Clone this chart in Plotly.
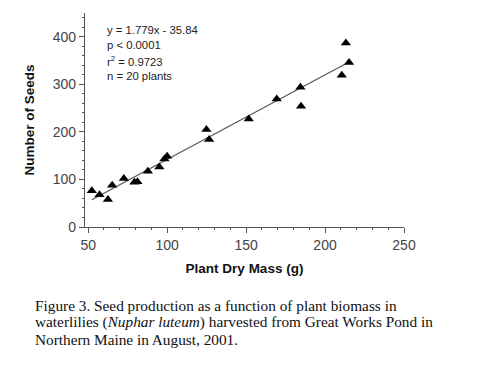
import plotly.graph_objects as go

mass = [52.3, 57.2, 62.5, 65.2, 72.6, 79.3, 81.2, 87.8, 95.1, 98.3, 100.0,
        124.9, 126.6, 151.7, 169.4, 184.4, 184.8, 210.6, 213.2, 215.2]
seeds = [76, 68, 58, 88, 102, 94, 95, 117, 126, 143, 149,
         205, 184, 227, 269, 294, 254, 319, 387, 346]
slope = 1.779
intercept = -35.84
fit_x = [min(mass), max(mass)]
fit_y = [slope * v + intercept for v in fit_x]

stats_lines = ["y = 1.779x - 35.84", "p < 0.0001", "r<sup>2</sup> = 0.9723", "n = 20 plants"]
x_title = "Plant Dry Mass (g)"
y_title = "Number of Seeds"
caption_lines = ["Figure 3. Seed production as a function of plant biomass in",
                 "waterlilies (<i>Nuphar luteum</i>) harvested from Great Works Pond in",
                 "Northern Maine in August, 2001."]

# page body has an 8px margin; figure is sized/offset to compensate
OFF = 8
W, H = 488 - OFF, 368 - OFF
L, R, T, B = 85 - OFF, 84, 13 - OFF, 141
PW, PH = W - L - R, H - T - B

fig = go.Figure()
fig.add_trace(go.Scatter(x=fit_x, y=fit_y, mode="lines",
                         line=dict(color="#555555", width=1.2), showlegend=False))
fig.add_trace(go.Scatter(x=mass, y=seeds, mode="markers",
                         marker=dict(symbol="triangle-up", size=9, color="black"),
                         showlegend=False))

axis_font = dict(family="Liberation Sans, Arial, sans-serif", size=14, color="#444444")
title_font = dict(family="Liberation Sans, Arial, sans-serif", size=13.5, color="#111111")
fig.update_xaxes(range=[48, 250], tickvals=[50, 100, 150, 200, 250],
                 showline=True, linecolor="#555555", linewidth=1.3,
                 ticks="outside", ticklen=5, tickcolor="#555555",
                 minor=dict(dtick=10, tick0=50, ticks="outside", ticklen=2, tickcolor="#555555"),
                 showgrid=False, zeroline=False, tickfont=axis_font,
                 title=dict(text="<b>" + x_title + "</b>", font=title_font, standoff=11))
fig.update_yaxes(range=[0, 450], tickvals=[0, 100, 200, 300, 400],
                 showline=True, linecolor="#555555", linewidth=1.3,
                 ticks="outside", ticklen=5, tickcolor="#555555",
                 minor=dict(dtick=20, tick0=0, ticks="outside", ticklen=2, tickcolor="#555555"),
                 showgrid=False, zeroline=False, tickfont=axis_font,
                 title=dict(text="<b>" + y_title + "</b>", font=title_font, standoff=14))


def px(xa):
    return (xa - OFF - L) / PW


def py(ya):
    return 1 - (ya - OFF - T) / PH


ann = []
for t, yy in zip(stats_lines, [30, 45, 61, 76]):
    ann.append(dict(text=t, xref="paper", yref="paper", x=px(105), y=py(yy),
                    xanchor="left", yanchor="middle", showarrow=False,
                    font=dict(family="Liberation Sans, Arial, sans-serif", size=11.3, color="#222222")))
for t, yy in zip(caption_lines, [305, 322, 339]):
    ann.append(dict(text=t, xref="paper", yref="paper", x=px(33), y=py(yy),
                    xanchor="left", yanchor="middle", align="left", showarrow=False,
                    font=dict(family="Liberation Serif, Times New Roman, serif", size=15.3, color="#111111")))

fig.update_layout(width=W, height=H, margin=dict(l=L, r=R, t=T, b=B, autoexpand=False),
                  paper_bgcolor="white", plot_bgcolor="white", annotations=ann)

fig.write_html("out.html")
